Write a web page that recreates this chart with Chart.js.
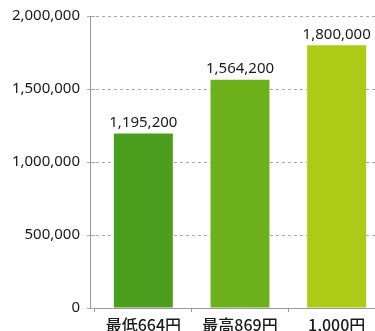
<!DOCTYPE html>
<html><head><meta charset="utf-8">
<script src="https://cdn.jsdelivr.net/npm/chart.js@4"></script>
<style>
html,body{margin:0;padding:0;background:#fff;overflow:hidden;}
#wrap{width:375px;height:331px;position:relative;overflow:hidden;}
</style></head>
<body>
<div id="wrap"><canvas id="c" width="385" height="345"></canvas></div>
<script>
const categories = ["最低664円", "最高869円", "1,000円"];
const values = [1195200, 1564200, 1800000];
const barColors = ["#4c9e1e", "#6cb01c", "#adcb16"];
const yTicks = [0, 500000, 1000000, 1500000, 2000000];

const fmt = v => v.toLocaleString("en-US");
const FONT = '"Noto Sans", "Noto Sans CJK JP", sans-serif';
const JFONT = '"Noto Sans CJK JP", sans-serif';

const labelPlugin = {
  id: "barLabels",
  afterDatasetsDraw(chart) {
    const ctx = chart.ctx;
    const meta = chart.getDatasetMeta(0);
    ctx.save();
    ctx.font = "15px " + FONT;
    ctx.fillStyle = "#1a1a1a";
    ctx.textAlign = "center";
    ctx.textBaseline = "bottom";
    meta.data.forEach((bar, i) => {
      ctx.fillText(fmt(values[i]), bar.x, bar.y - 3);
    });
    ctx.restore();
  }
};

new Chart(document.getElementById("c"), {
  type: "bar",
  data: {
    labels: categories,
    datasets: [{
      data: values,
      backgroundColor: barColors,
      borderWidth: 0,
      categoryPercentage: 1,
      barPercentage: 0.61
    }]
  },
  options: {
    responsive: false,
    animation: false,
    layout: { padding: { top: 16, right: 0, bottom: 0, left: 0 } },
    plugins: { legend: { display: false }, tooltip: { enabled: false } },
    scales: {
      x: {
        grid: { display: true, drawOnChartArea: false, tickLength: 4, color: "#999" },
        border: { color: "#999", width: 1 },
        ticks: { font: { size: 16, family: JFONT, weight: 500 }, color: "#1a1a1a", padding: 3 },
        afterFit(s) { s.height = 37; }
      },
      y: {
        weight: 1,
        min: 0, max: 2000000,
        afterBuildTicks(s) { s.ticks = yTicks.map(v => ({ value: v })); },
        grid: { color: "#aaa", drawTicks: true, tickLength: 3 },
        border: { display: true, color: "#999", width: 1, dash: [3, 3] },
        ticks: {
          font: { size: 15, family: FONT }, color: "#1a1a1a", padding: 7,
          callback: v => fmt(v)
        },
        afterFit(s) { s.width = 90; }
      },
      yGap: {
        type: "linear",
        position: "left",
        weight: 0,
        min: 0, max: 2000000,
        afterBuildTicks(s) { s.ticks = yTicks.map(v => ({ value: v })); },
        grid: { drawOnChartArea: false, drawTicks: true, tickLength: 5, color: "#aaa" },
        border: { display: false },
        ticks: { display: false },
        afterFit(s) { s.width = 5; }
      }
    }
  },
  plugins: [labelPlugin]
});
</script>
</body></html>
